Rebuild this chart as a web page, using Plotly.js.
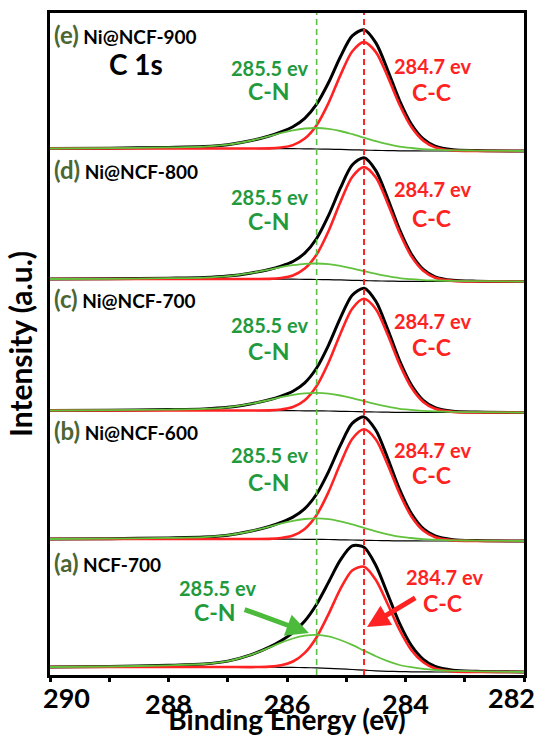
<!DOCTYPE html>
<html>
<head>
<meta charset="utf-8">
<script src="https://cdn.plot.ly/plotly-3.0.1.min.js"></script>
<style>html,body{margin:0;padding:0;background:#fff;}#chart{width:536px;height:736px;}</style>
</head>
<body>
<div id="chart"></div>
<script>
// ---------- data ----------
const energy = [290, 289, 288, 287.4, 287, 286.6, 286.3, 286.1, 285.9, 285.7, 285.5, 285.3, 285.1, 284.9, 284.7, 284.5, 284.3, 284.1, 283.9, 283.7, 283.5, 283.2, 282.8, 282];

const samples = ['NCF-700', 'Ni@NCF-600', 'Ni@NCF-700', 'Ni@NCF-800', 'Ni@NCF-900'];
const panelLetters = ['(a)', '(b)', '(c)', '(d)', '(e)'];
const stackOffset = [3, 134, 262.5, 393.5, 524];

const peakEnergies = [285.5, 284.7];
const peakNames = ['C-N', 'C-C'];
const coreLevel = 'C 1s';

const xTickValues = [290, 288, 286, 284, 282];
const xTickLabels = ['290', '288', '286', '284', '282'];
const xMinorTicks = [289, 287, 285, 283];

// (a) NCF-700
const bgA  = [5,5,5,5,5,4.9,4.8,4.7,4.6,4.4,4.1,3.7,3.1,2.5,1.8,1.2,0.7,0.4,0.2,0.1,0,0,0,0];
const ccA  = [5,5,5,5,5,4.9,5.4,6.7,10.5,19.1,34.8,57.7,82.9,101.5,105.3,92.0,67.7,42.0,21.8,9.7,3.5,0.6,0,0];
const cnA  = [5,5.5,6.7,8.0,10.9,17.4,24.3,29.3,33.5,36.3,37.1,35.6,32.0,27.1,21.3,15.7,10.8,7.0,4.8,3.1,2.0,1.2,0.7,0];
const envA = [5,5.5,6.7,8.0,10.9,17.4,24.9,31.3,39.4,51.0,67.8,89.6,111.8,126.1,124.8,106.5,77.8,48.6,26.4,12.7,5.5,1.8,0.7,0];
// (b) Ni@NCF-600
const bgB  = [2,2,2,2,2,2,1.9,1.9,1.8,1.7,1.6,1.5,1.2,1.0,0.7,0.5,0.3,0.1,0.1,0,0,0,0,0];
const ccB  = [2,2,2,2,2,2,2.1,3.0,5.5,12.1,26.0,48.9,77.2,102.0,111.7,101.5,76.3,47.5,24.5,10.4,3.7,0.6,0,0];
const cnB  = [2,2.3,3.1,3.9,5.8,10.0,14.3,17.5,20.2,22.0,22.6,21.8,19.6,16.6,13.1,9.7,6.7,4.3,3.0,1.9,1.3,0.7,0.4,0];
const envB = [2,2.3,3.1,3.9,5.8,10.0,14.5,18.6,23.9,32.4,47.0,69.2,95.6,117.6,124.1,110.7,82.7,51.7,27.4,12.3,5.0,1.3,0.4,0];
// (c) Ni@NCF-700
const bgC  = [2,2,2,2,2,2,1.9,1.9,1.8,1.7,1.6,1.5,1.2,1.0,0.7,0.5,0.3,0.1,0.1,0,0,0,0,0];
const ccC  = [2,2,2,2,2,2,2.1,3.0,5.5,12.3,26.5,49.8,78.6,103.8,113.7,103.3,77.7,48.4,25.0,10.6,3.7,0.6,0,0];
const cnC  = [2,2.3,2.9,3.6,5.2,8.8,12.5,15.3,17.6,19.1,19.6,18.9,17.0,14.4,11.3,8.4,5.8,3.7,2.6,1.6,1.1,0.6,0.4,0];
const envC = [2,2.3,2.9,3.6,5.2,8.8,12.7,16.4,21.3,29.7,44.5,67.2,94.4,117.2,124.3,111.2,83.2,52.0,27.5,12.2,4.8,1.2,0.4,0];
// (d) Ni@NCF-800
const bgD  = [2.5,2.5,2.5,2.5,2.5,2.5,2.4,2.4,2.3,2.2,2.0,1.8,1.6,1.2,0.9,0.6,0.4,0.2,0.1,0,0,0,0,0];
const ccD  = [2.5,2.5,2.5,2.5,2.5,2.5,2.6,3.5,6.0,12.9,27.0,50.3,79.3,104.5,114.4,103.9,78.1,48.7,25.1,10.7,3.7,0.6,0,0];
const cnD  = [2.5,2.7,3.3,3.9,5.4,8.6,11.8,14.3,16.3,17.7,18.0,17.3,15.6,13.1,10.3,7.6,5.3,3.4,2.3,1.4,1.0,0.6,0.3,0];
const envD = [2.5,2.7,3.3,3.9,5.4,8.6,12.0,15.4,20.0,28.4,43.0,65.8,93.3,116.4,123.8,110.9,83.0,51.9,27.3,12.1,4.7,1.2,0.3,0];
// (e) Ni@NCF-900
const bgE  = [2.5,2.5,2.5,2.5,2.5,2.5,2.4,2.4,2.3,2.2,2.0,1.8,1.6,1.2,0.9,0.6,0.4,0.2,0.1,0,0,0,0,0];
const ccE  = [2.5,2.5,2.5,2.5,2.5,2.5,2.6,3.5,5.9,12.4,25.8,47.9,75.6,99.5,108.9,98.9,74.4,46.3,23.9,10.2,3.6,0.5,0,0];
const cnE  = [2.5,2.8,3.6,4.4,6.3,10.5,14.8,18.0,20.7,22.5,23.0,22.1,20.0,16.8,13.3,9.8,6.8,4.4,3.0,1.9,1.3,0.7,0.4,0];
const envE = [2.5,2.8,3.6,4.4,6.3,10.5,15.0,19.1,24.3,32.7,46.8,68.2,94.0,115.1,121.3,108.1,80.8,50.5,26.8,12.1,4.9,1.2,0.4,0];

// ---------- drawing ----------
const backgrounds = [bgA, bgB, bgC, bgD, bgE];
const ccPeaks = [ccA, ccB, ccC, ccD, ccE];
const cnPeaks = [cnA, cnB, cnC, cnD, cnE];
const envelopes = [envA, envB, envC, envD, envE];

const BLACK = '#000000';
const RED = '#ff2222';
const GREEN_LINE = '#62c23e';
const GREEN_TEXT = '#1f9a3c';
const LETTER = '#4b6633';
const FONT = 'Lato, "Open Sans", "DejaVu Sans", sans-serif';

const traces = [];
for (let i = 0; i < samples.length; i++) {
  const shift = v => v + stackOffset[i];
  const common = {x: energy, mode: 'lines', hoverinfo: 'skip', showlegend: false};
  traces.push(Object.assign({}, common, {y: backgrounds[i].map(shift), name: samples[i] + ' background',
    line: {color: BLACK, width: 1.2, shape: 'spline', smoothing: 0.8}}));
  traces.push(Object.assign({}, common, {y: envelopes[i].map(shift), name: samples[i] + ' envelope',
    line: {color: BLACK, width: 3, shape: 'spline', smoothing: 0.8}}));
  traces.push(Object.assign({}, common, {y: ccPeaks[i].map(shift), name: samples[i] + ' C-C',
    line: {color: RED, width: 2.6, shape: 'spline', smoothing: 0.8}}));
  traces.push(Object.assign({}, common, {y: cnPeaks[i].map(shift), name: samples[i] + ' C-N',
    line: {color: GREEN_LINE, width: 1.8, shape: 'spline', smoothing: 0.8}}));
}

const annotations = [];
// panel labels (y centre in data units)
const labelY = [113, 245, 377, 506, 641];
for (let i = 0; i < samples.length; i++) {
  annotations.push({xref: 'paper', yref: 'y', x: 0.004, y: labelY[i], xanchor: 'left', yanchor: 'middle',
    showarrow: false, font: {family: FONT, size: 19, color: BLACK, weight: 'bold'},
    text: '<span style="color:' + LETTER + ';font-size:24px">' + panelLetters[i] + '</span> ' + samples[i]});
}
annotations.push({xref: 'x', yref: 'y', x: 288.55, y: 611, showarrow: false,
  font: {family: FONT, size: 28, color: BLACK, weight: 'bold'}, text: coreLevel});

// peak labels for panels b..e
const cnLabelY = [null, [220, 193], [350, 324], [478, 454], [607, 584]];
const ccLabelY = [null, [225, 200], [354, 328], [486, 457], [609, 583]];
for (let i = 1; i < samples.length; i++) {
  annotations.push({xref: 'x', yref: 'y', x: 286.29, y: cnLabelY[i][0], showarrow: false,
    font: {family: FONT, size: 20, color: GREEN_TEXT, weight: 'bold'}, text: peakEnergies[0] + ' ev'});
  annotations.push({xref: 'x', yref: 'y', x: 286.31, y: cnLabelY[i][1], showarrow: false,
    font: {family: FONT, size: 23, color: GREEN_TEXT, weight: 'bold'}, text: peakNames[0]});
  annotations.push({xref: 'x', yref: 'y', x: 283.55, y: ccLabelY[i][0], showarrow: false,
    font: {family: FONT, size: 20, color: RED, weight: 'bold'}, text: peakEnergies[1] + ' ev'});
  annotations.push({xref: 'x', yref: 'y', x: 283.56, y: ccLabelY[i][1], showarrow: false,
    font: {family: FONT, size: 23, color: RED, weight: 'bold'}, text: peakNames[1]});
}
// panel a labels with arrows
annotations.push({xref: 'x', yref: 'y', x: 287.18, y: 87, showarrow: false,
  font: {family: FONT, size: 20, color: GREEN_TEXT, weight: 'bold'}, text: peakEnergies[0] + ' ev'});
annotations.push({xref: 'x', yref: 'y', x: 287.21, y: 63, showarrow: false,
  font: {family: FONT, size: 23, color: GREEN_TEXT, weight: 'bold'}, text: peakNames[0]});
annotations.push({xref: 'x', yref: 'y', x: 283.35, y: 98, showarrow: false,
  font: {family: FONT, size: 20, color: RED, weight: 'bold'}, text: peakEnergies[1] + ' ev'});
annotations.push({xref: 'x', yref: 'y', x: 283.38, y: 72, showarrow: false,
  font: {family: FONT, size: 23, color: RED, weight: 'bold'}, text: peakNames[1]});
annotations.push({xref: 'x', yref: 'y', axref: 'x', ayref: 'y', x: 285.63, y: 42, ax: 286.74, ay: 66,
  text: '', showarrow: true, arrowhead: 2, arrowsize: 0.9, arrowwidth: 5, arrowcolor: '#4cbb3c', standoff: 0, startstandoff: 0});
annotations.push({xref: 'x', yref: 'y', axref: 'x', ayref: 'y', x: 284.65, y: 48, ax: 283.81, ay: 78,
  text: '', showarrow: true, arrowhead: 2, arrowsize: 0.9, arrowwidth: 5, arrowcolor: RED, standoff: 0, startstandoff: 0});

const tickFont = {family: FONT, size: 27, color: BLACK, weight: 'bold'};
const last = xTickValues.length - 1;
// the two edge tick labels sit pulled inside the frame in the reference
[[0, 16], [last, -13]].forEach(([k, dx]) => {
  annotations.push({xref: 'x', yref: 'paper', x: xTickValues[k], y: -0.0347, xshift: dx,
    xanchor: 'center', yanchor: 'middle', showarrow: false, font: tickFont, text: xTickLabels[k]});
});

const shapes = [
  {type: 'line', xref: 'x', yref: 'paper', x0: peakEnergies[0], x1: peakEnergies[0], y0: 0, y1: 1,
   line: {color: '#5cbf45', width: 1.6, dash: '6px,4px'}},
  {type: 'line', xref: 'x', yref: 'paper', x0: peakEnergies[1], x1: peakEnergies[1], y0: 0, y1: 1,
   line: {color: RED, width: 2, dash: '6px,4px'}}
];

const layout = {
  width: 536, height: 736,
  margin: {l: 50, r: 12, t: 13, b: 61},
  paper_bgcolor: '#ffffff', plot_bgcolor: '#ffffff',
  font: {family: FONT, color: BLACK},
  showlegend: false,
  xaxis: {
    range: [290, 282], showgrid: false, zeroline: false,
    showline: true, mirror: true, linecolor: BLACK, linewidth: 3,
    tickmode: 'array', tickvals: xTickValues, ticktext: xTickLabels.map((t, k) => (k === 0 || k === last) ? '' : t),
    ticks: 'outside', ticklen: 4, tickwidth: 3, tickcolor: BLACK,
    ticklabeloverflow: 'allow',
    tickfont: tickFont,
    minor: {tickmode: 'array', tickvals: xMinorTicks, ticks: 'outside', ticklen: 4, tickwidth: 3, tickcolor: BLACK, showgrid: false},
    title: {text: 'Binding Energy (ev)', font: {family: FONT, size: 28, color: BLACK, weight: 'bold'}, standoff: 12}
  },
  yaxis: {
    range: [0, 662], showgrid: false, zeroline: false,
    showline: true, mirror: true, linecolor: BLACK, linewidth: 3,
    showticklabels: false, ticks: '',
    title: {text: 'Intensity (a.u.)', font: {family: FONT, size: 30, color: BLACK, weight: 'bold'}, standoff: 6}
  },
  annotations: annotations,
  shapes: shapes
};

Plotly.newPlot('chart', traces, layout, {displayModeBar: false, staticPlot: true});
</script>
</body>
</html>
